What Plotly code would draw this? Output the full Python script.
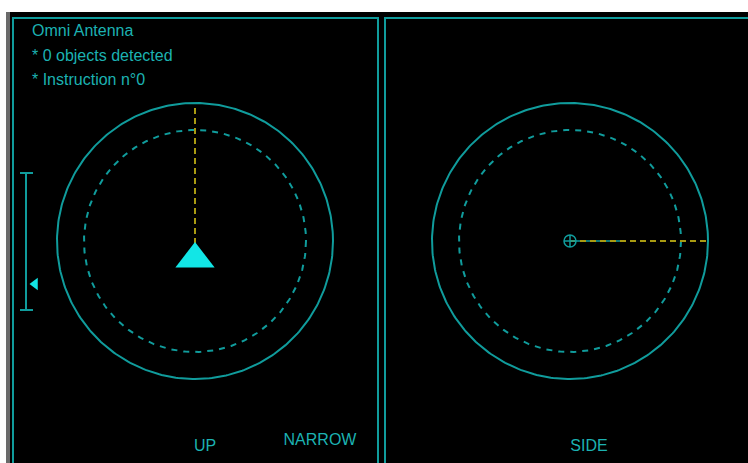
import numpy as np
import plotly.graph_objects as go

# screen frame (pixel units of the page)
screen_w, screen_h = 748, 463

# panels: left/right frame edges
panel_names = ["UP", "SIDE"]
panel_x0 = [13, 385]
panel_x1 = [378, 760]
panel_top = 18
panel_centers_x = [195, 570]
panel_center_y = 241

# radar rings
ring_radii = [138, 111]
ring_dash = ["solid", "dash"]

# beam (yellow) per panel, as start/end points
beam_x = [[195, 195], [570, 706]]
beam_y = [[108, 250], [241, 241]]

# status lines
status_lines = ["Omni Antenna", "* 0 objects detected", "* Instruction n°0"]
status_y = [32, 57, 81]

# bottom labels
bottom_labels = ["UP", "NARROW", "SIDE"]
bottom_x = [205, 320, 589]
bottom_y = [447, 441, 447]

# elevation scale
scale_x = 26
scale_top, scale_bottom = 173, 310
scale_value_y = 284

teal = "#109c9c"
text_teal = "#1cb2b2"
cyan = "#12e6e6"
yellow = "#a99b12"
font = dict(color=text_teal, size=16, family="Liberation Sans")

fig = go.Figure()

# black screen + side strip
fig.add_shape(type="rect", x0=6, x1=10, y0=12, y1=screen_h, fillcolor="#6a6a6a", line_width=0, layer="below")
fig.add_shape(type="rect", x0=10, x1=screen_w, y0=12, y1=screen_h, fillcolor="#000000", line_width=0, layer="below")

# panel frames (bottom edge off screen)
for x0, x1 in zip(panel_x0, panel_x1):
    fig.add_trace(go.Scatter(x=[x0, x0, x1, x1], y=[screen_h + 20, panel_top, panel_top, screen_h + 20],
                             mode="lines", line=dict(color=teal, width=2), hoverinfo="skip", showlegend=False))

# rings
t = np.linspace(0, 2 * np.pi, 361)
for cx in panel_centers_x:
    for r, d in zip(ring_radii, ring_dash):
        fig.add_trace(go.Scatter(x=cx + r * np.cos(t), y=panel_center_y + r * np.sin(t), mode="lines",
                                 line=dict(color=teal, width=2, dash="6px,6px" if d == "dash" else "solid"),
                                 hoverinfo="skip", showlegend=False))

# short cyan heading line in side view
fig.add_trace(go.Scatter(x=[panel_centers_x[1], panel_centers_x[1] + 50], y=[panel_center_y, panel_center_y],
                         mode="lines", line=dict(color=teal, width=1.5), hoverinfo="skip", showlegend=False))

# beams
for bx, by in zip(beam_x, beam_y):
    fig.add_trace(go.Scatter(x=bx, y=by, mode="lines", line=dict(color=yellow, width=2, dash="6px,4px"),
                             hoverinfo="skip", showlegend=False))

# antenna markers
fig.add_trace(go.Scatter(x=[panel_centers_x[0]], y=[panel_center_y + 18], mode="markers",
                         marker=dict(symbol="triangle-up", size=34, color=cyan, line=dict(width=0)),
                         hoverinfo="skip", showlegend=False))
fig.add_trace(go.Scatter(x=[panel_centers_x[1]], y=[panel_center_y], mode="markers",
                         marker=dict(symbol="circle-cross-open", size=12, color=teal, line=dict(width=1.5)),
                         hoverinfo="skip", showlegend=False))

# elevation scale
fig.add_trace(go.Scatter(x=[scale_x, scale_x, None, scale_x - 6, scale_x + 7, None, scale_x - 6, scale_x + 7],
                         y=[scale_top, scale_bottom, None, scale_top, scale_top, None, scale_bottom, scale_bottom],
                         mode="lines", line=dict(color=teal, width=2), hoverinfo="skip", showlegend=False))
fig.add_trace(go.Scatter(x=[scale_x + 9], y=[scale_value_y], mode="markers",
                         marker=dict(symbol="triangle-left", size=11, color=cyan, line=dict(width=0)),
                         hoverinfo="skip", showlegend=False))

# text
fig.add_trace(go.Scatter(x=[32] * len(status_lines), y=status_y, mode="text", text=status_lines,
                         textposition="middle right", textfont=font, hoverinfo="skip", showlegend=False))
fig.add_trace(go.Scatter(x=bottom_x, y=bottom_y, mode="text", text=bottom_labels, textposition="middle center",
                         textfont=font, hoverinfo="skip", showlegend=False))

fig.update_layout(width=screen_w, height=screen_h, margin=dict(l=0, r=0, t=0, b=0),
                  paper_bgcolor="white", plot_bgcolor="white")
fig.update_xaxes(range=[0, screen_w], visible=False, showgrid=False, zeroline=False)
fig.update_yaxes(range=[screen_h, 0], visible=False, showgrid=False, zeroline=False)
# drop the page's default body margin so the figure fills the window
fig.write_html("out.html", config={"displayModeBar": False},
               post_script="document.body.style.margin='0';document.body.style.overflow='hidden';")
